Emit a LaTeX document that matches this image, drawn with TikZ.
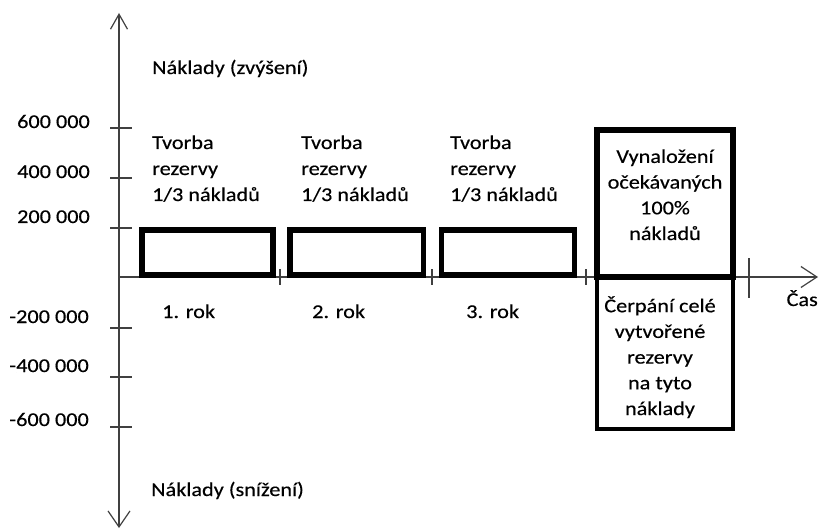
\documentclass[tikz,border=0pt]{standalone}
\usepackage{fontspec}
\setmainfont{Carlito}[FakeStretch=1.14,FakeBold=0.4]
\usetikzlibrary{arrows.meta}
\begin{document}
\begin{tikzpicture}[x=1pt,y=-1pt,
  txt/.style={inner sep=0pt, font=\fontsize{19.5}{26}\selectfont},
  boxtxt/.style={inner sep=0pt, align=center, font=\fontsize{19.5}{25.7}\selectfont},
  axis/.style={line width=1.2pt, draw=black!75},
  tickline/.style={line width=1.1pt, draw=black!75},
  resbox/.style={draw, line width=5.5pt, inner sep=0pt, rectangle},
  lowbox/.style={draw, line width=4pt, inner sep=0pt, rectangle},
]
\useasboundingbox (0,0) rectangle (821,529);
% axes
\coordinate (ytop) at (119,13);
\coordinate (ybot) at (119,528);
\coordinate (origin) at (119,277);
\coordinate (xend) at (818,277);
\draw[axis, {Straight Barb[length=16pt,width=22pt]}-{Straight Barb[length=15pt,width=17pt]}] (ybot) -- (ytop);
\draw[axis, -{Straight Barb[length=16pt,width=21pt]}] (origin) -- (xend);
% ticks on vertical axis
\foreach \yy in {128,178,228,328,377,427}
  \draw[tickline] (110,\yy) -- (132,\yy);
% ticks on horizontal axis
\foreach \xx in {280,432,586}
  \draw[tickline] (\xx,269) -- (\xx,285);
\draw[tickline] (749,258) -- (749,298);
% value labels
\node[txt, anchor=base east] (v600) at (90,128) {600 000};
\node[txt, anchor=base east] (v400) at (90,178) {400 000};
\node[txt, anchor=base east] (v200) at (90,223) {200 000};
\node[txt, anchor=base east] (m200) at (89,323) {-200 000};
\node[txt, anchor=base east] (m400) at (89,372) {-400 000};
\node[txt, anchor=base east] (m600) at (89,426) {-600 000};
% axis titles
\node[txt, anchor=base west] (up) at (152,74) {Náklady (zvýšení)};
\node[txt, anchor=base west] (down) at (151,496) {Náklady (snížení)};
\node[txt, anchor=base east] (cas) at (818,306) {Čas};
% boxes
\node[resbox, minimum width=131pt, minimum height=45pt] (b1) at (207.5,252.5) {};
\node[resbox, minimum width=133.5pt, minimum height=45pt] (b2) at (356.75,252.5) {};
\node[resbox, minimum width=133pt, minimum height=45pt] (b3) at (508,252.5) {};
\node[lowbox, minimum width=136pt, minimum height=152pt] (big2) at (665,353) {};
\node[resbox, minimum width=136pt, minimum height=147pt] (big1) at (665,203.5) {};
% texts above the boxes (anchor = baseline of last line)
\node[txt, anchor=base west, align=left] (t1) at (152,201) {Tvorba\\rezervy\\1/3 nákladů};
\node[txt, anchor=base west, align=left] (t2) at (301,201) {Tvorba\\rezervy\\1/3 nákladů};
\node[txt, anchor=base west, align=left] (t3) at (450,201) {Tvorba\\rezervy\\1/3 nákladů};
% year labels
\node[txt, anchor=base west] (r1) at (162,318) {1. rok};
\node[txt, anchor=base west] (r2) at (312,318) {2. rok};
\node[txt, anchor=base west] (r3) at (466,318) {3. rok};
% big box texts (anchor = baseline of last line)
\node[boxtxt, anchor=base] (ut) at (665,240) {Vynaložení\\očekávaných\\100\%\\nákladů};
\node[boxtxt, anchor=base] (lt) at (660,415) {Čerpání celé\\vytvořené\\rezervy\\na tyto\\náklady};
\end{tikzpicture}
\end{document}
